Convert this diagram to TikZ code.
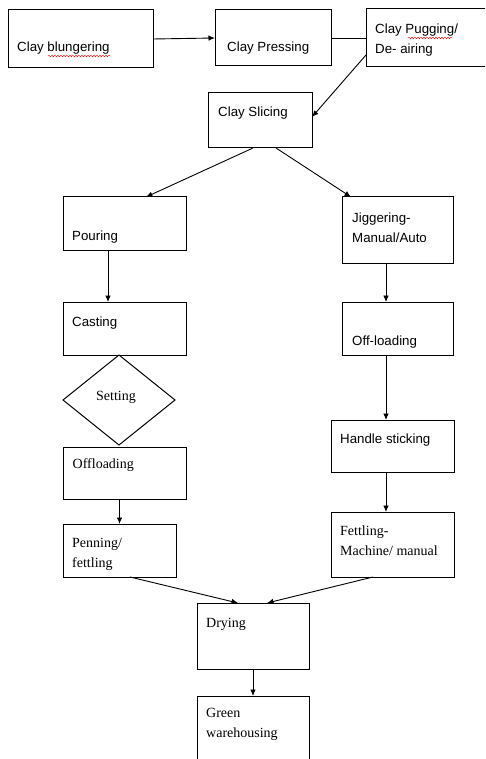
\documentclass[tikz,border=0pt]{standalone}
\usepackage{fontspec}
\setmainfont{Liberation Serif}
\newfontfamily\arialfont{Liberation Sans}
\usetikzlibrary{shapes.geometric,arrows.meta,decorations.pathmorphing}

\begin{document}
\begin{tikzpicture}[x=1pt, y=-1pt,
	box/.style={draw, rectangle, inner sep=0pt, outer sep=0pt, line width=1pt},
	txt/.style={anchor=base west, inner sep=0pt, align=left, font=\arialfont\fontsize{13.3}{20}\selectfont},
	ttxt/.style={anchor=base west, inner sep=0pt, align=left, font=\fontsize{14}{20}\selectfont},
	pfeil/.style={-{Latex[length=6.5pt,width=5.5pt]}, line width=0.9pt},
	wavy/.style={red, line width=0.4pt, decorate, decoration={snake, amplitude=0.8pt, segment length=3pt}}
]
%
%Rahmen
\useasboundingbox (0,0) rectangle (485,759);
\clip (0,0) rectangle (485,759);

\def \lw {123pt}  

%Kaesten oben
\node[box, minimum width=145pt, minimum height=58pt] (blunge) at (80.5,39) {};
\node[box, minimum width=116pt, minimum height=56pt] (press) at (273,38) {};
\node[box, minimum width=134pt, minimum height=58pt] (pug) at (433,38) {};
\node[box, minimum width=104pt, minimum height=55pt] (slice) at (260,120.5) {};

%linker Zweig
\node[box, minimum width=\lw, minimum height=53pt] (pour) at (124.5,223.5) {};
\node[box, minimum width=\lw, minimum height=53pt] (cast) at (124.5,328.5) {};
\node[draw, diamond, aspect=1.244, minimum width=112pt, minimum height=90pt, inner sep=0pt, outer sep=0pt, line width=1pt] (setting) at (119,400) {};
\node[box, minimum width=\lw, minimum height=52pt] (offl) at (124.5,473) {};
\node[box, minimum width=113pt, minimum height=53pt] (pen) at (119.5,550.5) {};

%rechter Zweig
\node[box, minimum width=111pt, minimum height=66pt] (jig) at (397.5,230) {};
\node[box, minimum width=111pt, minimum height=53pt] (offr) at (397.5,328.5) {};
\node[box, minimum width=\lw, minimum height=52pt] (handle) at (392.5,446) {};
\node[box, minimum width=\lw, minimum height=65pt] (fettle) at (392.5,544.5) {};

%unten
\node[box, minimum width=112pt, minimum height=66pt] (dry) at (253,636) {};
\node[box, minimum width=112pt, minimum height=84pt] (green) at (253,738) {};

%Texte (zweizeilig: Grundlinie der letzten Zeile)
\node[txt] (tblunge) at (17,52) {Clay blungering};
\node[txt] (tpress) at (227,52) {Clay Pressing};
\node[txt] (tpug) at (375,54) {Clay Pugging/\\De- airing};
\node[txt] (tslice) at (218,117) {Clay Slicing};
\node[txt] (tpour) at (72,240) {Pouring};
\node[txt] (tcast) at (72,326) {Casting};
\node[ttxt] (tset) at (96,400) {Setting};
\node[ttxt] (toffl) at (72.5,468) {Offloading};
\node[ttxt] (tpen) at (72,567) {Penning/\\fettling};
\node[txt] (tjig) at (352,242) {Jiggering-\\Manual/Auto};
\node[txt] (toffr) at (352,345) {Off-loading};
\node[txt] (thandle) at (340,443) {Handle sticking};
\node[ttxt] (tfettle) at (340,555) {Fettling-\\Machine/\ manual};
\node[ttxt] (tdry) at (206,627) {Drying};
\node[ttxt] (tgreen) at (206,737) {Green\\warehousing};

%Rechtschreibung
\draw[wavy] (48,56) -- (110,56);
\draw[wavy] (408,38) -- (452,38);

%Pfeile
\draw[pfeil] (blunge.east) -- (press.west);
\draw[line width=0.9pt] (press.east) -- (pug.west);
\draw[pfeil] ([yshift=-17pt]pug.west) -- ([yshift=3.5pt]slice.east);
\draw[pfeil] ([xshift=-7pt]slice.south) -- ([xshift=21.5pt]pour.north);
\draw[pfeil] ([xshift=16pt]slice.south) -- ([xshift=-46.5pt]jig.north);

\draw[pfeil] ([xshift=-16.5pt]pour.south) -- ([xshift=-16.5pt]cast.north);
\draw[pfeil] (pen.north |- offl.south) -- (pen.north);

\draw[pfeil] ([xshift=-11.5pt]jig.south) -- ([xshift=-11.5pt]offr.north);
\draw[pfeil] ([xshift=-11.5pt]offr.south) -- ([xshift=-6.5pt]handle.north);
\draw[pfeil] ([xshift=-6.5pt]handle.south) -- ([xshift=-6.5pt]fettle.north);

\draw[pfeil] ([xshift=10.5pt]pen.south) -- ([xshift=-15pt]dry.north);
\draw[pfeil] ([xshift=-19.5pt]fettle.south) -- ([xshift=14pt]dry.north);
\draw[pfeil] (dry.south) -- (green.north);

\end{tikzpicture}
\end{document}
